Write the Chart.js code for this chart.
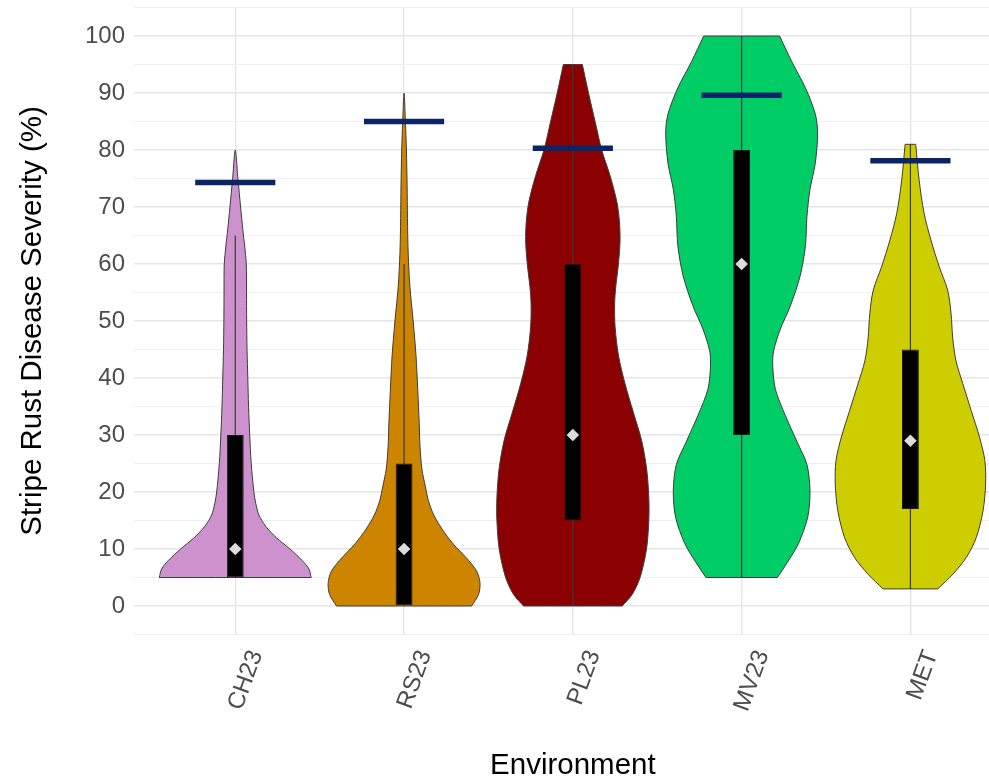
<!DOCTYPE html>
<html>
<head>
<meta charset="utf-8">
<title>Stripe rust severity by environment</title>
<script src="https://cdn.jsdelivr.net/npm/chart.js@4.4.1/dist/chart.umd.min.js"></script>
<style>
  html, body { margin: 0; padding: 0; background: #ffffff; overflow: hidden; }
  /* the plot panel runs slightly past the right edge of the window */
  #wrap { width: 1018px; height: 779px; position: relative; }
</style>
</head>
<body>
<div id="wrap"><canvas id="chart"></canvas></div>
<script>
// ---- data ----
const environments = ['CH23', 'RS23', 'PL23', 'MV23', 'MET'];

// violin profiles: severity level (%) and relative kernel density (1 = widest)
const levelsCH23  = [5, 6.5, 8, 10, 12, 14, 16, 18, 20, 25, 30, 35, 40, 45, 50, 55, 60, 63, 66, 70, 75, 80];
const densityCH23 = [1.0, 0.97, 0.88, 0.72, 0.54, 0.4, 0.31, 0.27, 0.245, 0.21, 0.19, 0.175, 0.165, 0.155, 0.15, 0.148, 0.145, 0.125, 0.1, 0.07, 0.035, 0];

const levelsRS23  = [0, 2, 4, 6, 8, 11, 13.5, 16, 18.5, 21, 24, 28, 32, 38, 44, 50, 56, 62, 68, 74, 80, 85, 90];
const densityRS23 = [0.89, 0.98, 1.0, 0.96, 0.85, 0.64, 0.5, 0.39, 0.32, 0.28, 0.235, 0.21, 0.2, 0.18, 0.157, 0.12, 0.077, 0.054, 0.045, 0.04, 0.031, 0.018, 0];

const levelsPL23  = [0, 2, 5, 10, 15, 19, 24, 29, 34, 39, 44, 49, 53, 56, 60, 64, 67.5, 71, 75.5, 80, 85, 90, 95];
const densityPL23 = [0.65, 0.78, 0.885, 0.97, 1.0, 1.0, 0.972, 0.906, 0.796, 0.687, 0.6, 0.556, 0.55, 0.565, 0.6, 0.621, 0.613, 0.578, 0.49, 0.38, 0.293, 0.206, 0.125];

const levelsMV23  = [5, 7.6, 11, 15.6, 20.2, 24.8, 28.8, 33.4, 38, 42, 44.7, 48.6, 52.6, 57.9, 63.2, 68.4, 73.1, 77.7, 83, 86.3, 90.9, 95.5, 100];
const densityMV23 = [0.47, 0.6, 0.75, 0.87, 0.9, 0.86, 0.73, 0.576, 0.445, 0.41, 0.42, 0.51, 0.64, 0.77, 0.84, 0.86, 0.9, 0.97, 1.0, 0.97, 0.84, 0.66, 0.5];

const levelsMET   = [3, 5.6, 8.5, 12, 16.7, 21.4, 25.5, 29.6, 34.3, 39, 43, 47, 51.3, 55.4, 59.5, 64.2, 68.9, 74.7, 81];
const densityMET  = [0.36, 0.56, 0.735, 0.867, 0.956, 0.99, 0.98, 0.91, 0.8, 0.69, 0.6, 0.557, 0.535, 0.49, 0.38, 0.27, 0.18, 0.115, 0.07];

// box plot summaries
const lowerQuartile = [5, 0, 15, 30, 17];
const upperQuartile = [30, 25, 60, 80, 45];
const medians       = [10, 10, 30, 60, 29];
const whiskerLow    = [5, 0, 0, 5, 3];
const whiskerHigh   = [65, 60, 95, 100, 81];

// reference level drawn as a dark blue bar on each violin
const referenceLevel = [74.3, 85, 80.3, 89.6, 78.1];

// y tick labels
const yTickLabels = [0, 10, 20, 30, 40, 50, 60, 70, 80, 90, 100];

// ---- styling ----
const violinLevels  = [levelsCH23, levelsRS23, levelsPL23, levelsMV23, levelsMET];
const violinDensity = [densityCH23, densityRS23, densityPL23, densityMV23, densityMET];
const fillColors = ['#CD92CD', '#CD8500', '#8B0000', '#00CD66', '#CDCD00'];
const VIOLIN_HALF = 0.45;   // half of the violin width, in category units
const REF_HALF = 0.2375;    // half length of the reference bar
const FONT = "'Liberation Sans', Arial, Helvetica, sans-serif";

// outline of one violin: right side bottom-to-top, then left side top-to-bottom.
// Corner vertices are doubled so the flat ends stay straight with curve tension.
function violinOutline(pos, levels, dens) {
  const n = levels.length;
  const right = levels.map((y, k) => ({ x: pos + VIOLIN_HALF * dens[k], y }));
  const left = levels.map((y, k) => ({ x: pos - VIOLIN_HALF * dens[k], y }));
  const pts = [];
  for (let k = 0; k < n; k++) pts.push(right[k]);
  if (dens[n - 1] > 0) {
    pts.push(right[n - 1]);
    pts.push(left[n - 1]);
    pts.push(left[n - 1]);
  }
  for (let k = n - 2; k >= 0; k--) pts.push(left[k]);
  pts.push(left[0]);
  pts.push(right[0]);
  return pts;
}

const datasets = [];

environments.forEach((env, i) => {
  const pos = i + 1;
  datasets.push({
    type: 'line',
    label: env + ' density',
    data: violinOutline(pos, violinLevels[i], violinDensity[i]),
    backgroundColor: fillColors[i],
    borderColor: '#3c3c3c',
    borderWidth: 1,
    fill: 'shape',
    tension: 0.3,
    pointRadius: 0,
    pointHitRadius: 0,
    order: 50
  });
  datasets.push({
    type: 'line',
    label: env + ' whisker',
    data: [{ x: pos, y: whiskerLow[i] }, { x: pos, y: whiskerHigh[i] }],
    borderColor: '#3a3a3a',
    borderWidth: 1.2,
    pointRadius: 0,
    fill: false,
    order: 40
  });
  datasets.push({
    type: 'line',
    label: env + ' reference',
    data: [{ x: pos - REF_HALF, y: referenceLevel[i] }, { x: pos + REF_HALF, y: referenceLevel[i] }],
    borderColor: '#0a2466',
    borderWidth: 5.5,
    borderCapStyle: 'butt',
    pointRadius: 0,
    fill: false,
    order: 1
  });
});

datasets.push({
  type: 'bar',
  label: 'IQR',
  data: environments.map((e, i) => ({ x: i + 1, y: [lowerQuartile[i], upperQuartile[i]] })),
  backgroundColor: '#000000',
  borderColor: '#1a1a1a',
  borderWidth: 1,
  borderSkipped: false,
  barPercentage: 0.1,
  categoryPercentage: 1.0,
  order: 30
});

datasets.push({
  type: 'scatter',
  label: 'Median',
  data: environments.map((e, i) => ({ x: i + 1, y: medians[i] })),
  pointStyle: 'rectRot',
  pointRadius: 6.3,
  backgroundColor: '#dcdcdc',
  borderWidth: 0,
  order: 20
});

const majorGrid = '#e6e6e6';
const minorGrid = '#f0f0f0';

new Chart(document.getElementById('chart'), {
  type: 'line',
  data: { datasets },
  options: {
    responsive: true,
    maintainAspectRatio: false,
    animation: false,
    events: [],
    layout: { padding: { top: 7.5, right: 0, left: 0, bottom: 0 } },
    plugins: { legend: { display: false }, tooltip: { enabled: false } },
    scales: {
      x: {
        type: 'linear',
        min: 0.4,
        max: 5.6,
        offset: false,
        afterBuildTicks: (scale) => {
          scale.ticks = environments.map((e, i) => ({ value: i + 1 }));
        },
        afterFit: (scale) => {
          scale.height = 144.5;
          scale.paddingLeft = 0;
          scale.paddingRight = 0;
        },
        border: { display: false },
        grid: { color: majorGrid, lineWidth: 1.4, drawTicks: false, offset: false },
        ticks: {
          autoSkip: false,
          minRotation: 70,
          maxRotation: 70,
          padding: 12,
          labelOffset: 21,
          color: '#4d4d4d',
          font: { family: FONT, size: 24 },
          callback: (v) => environments[Math.round(v) - 1] || ''
        },
        title: {
          display: true,
          text: 'Environment',
          color: '#000000',
          font: { family: FONT, size: 29.5, lineHeight: 0.9 },
          padding: { top: 0, bottom: 0 }
        }
      },
      y: {
        type: 'linear',
        min: -5,
        max: 105,
        afterBuildTicks: (scale) => {
          const t = [];
          for (let v = -5; v <= 105; v += 5) t.push({ value: v });
          scale.ticks = t;
        },
        afterFit: (scale) => {
          scale.width = 134;
          scale.paddingTop = 0;
          scale.paddingBottom = 0;
        },
        border: { display: false },
        grid: {
          drawTicks: false,
          color: (ctx) => (ctx.tick && ctx.tick.value % 10 === 0 ? majorGrid : minorGrid),
          lineWidth: (ctx) => (ctx.tick && ctx.tick.value % 10 === 0 ? 1.4 : 1)
        },
        ticks: {
          autoSkip: false,
          padding: 9,
          color: '#4d4d4d',
          font: { family: FONT, size: 24 },
          callback: (v) => (yTickLabels.includes(v) ? String(v) : '')
        },
        title: {
          display: true,
          text: 'Stripe Rust Disease Severity (%)',
          color: '#000000',
          font: { family: FONT, size: 29.5, lineHeight: 0.9 },
          padding: { top: 20, bottom: 0 }
        }
      }
    }
  }
});
</script>
</body>
</html>
